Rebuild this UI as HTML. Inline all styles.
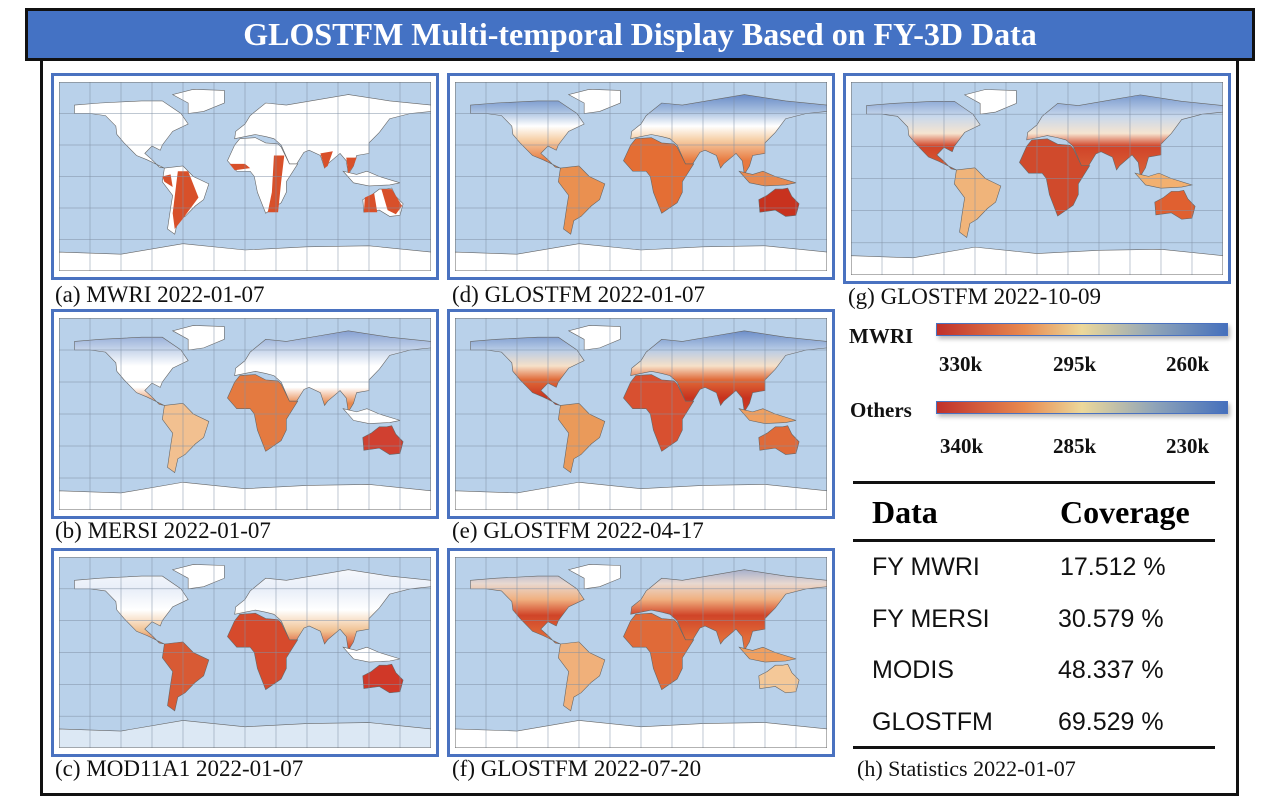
<!DOCTYPE html>
<html><head><meta charset="utf-8">
<style>
body{margin:0;width:1274px;height:806px;background:#fff;position:relative;overflow:hidden;font-family:"Liberation Serif",serif}
.title{position:absolute;left:25px;top:8px;width:1224px;height:47px;background:#4472c4;border:3px solid #111;color:#fff;font-weight:bold;font-size:32px;text-align:center;line-height:47px}
.frame{position:absolute;left:40px;top:58px;width:1193px;height:735px;border:3px solid #111;border-top:none}
.map{position:absolute;border:3px solid #4a72c0;background:#fff;box-sizing:border-box}
.map svg{position:absolute;left:5px;top:6px}
.cap{position:absolute;font-size:23px;color:#111;white-space:nowrap}
.lg{position:absolute;font-weight:bold;font-size:21px;color:#111}
.bar{position:absolute;left:936px;width:290px;height:11px;background:linear-gradient(90deg,#c0302a,#e88a50 30%,#ecd89a 50%,#8fa4b8 75%,#4570bc);border:1px solid #4a72c0;box-shadow:2px 3px 4px #bbb}
.hl{position:absolute;left:853px;width:362px;height:3px;background:#111}
.row{position:absolute;font-family:"Liberation Sans",sans-serif;font-size:25px;color:#111}
</style></head><body>
<div class="title">GLOSTFM Multi-temporal Display Based on FY-3D Data</div>
<div class="frame"></div>

<div class="map" id="ma" style="left:51px;top:73px;width:388px;height:207px"></div>
<div class="map" id="md" style="left:447px;top:73px;width:388px;height:207px"></div>
<div class="map" id="mg" style="left:843px;top:73px;width:388px;height:211px"></div>
<div class="map" id="mb" style="left:51px;top:309px;width:388px;height:210px"></div>
<div class="map" id="me" style="left:447px;top:309px;width:388px;height:210px"></div>
<div class="map" id="mc" style="left:51px;top:548px;width:388px;height:209px"></div>
<div class="map" id="mf" style="left:447px;top:548px;width:388px;height:209px"></div>

<div class="cap" style="left:55px;top:282px">(a) MWRI 2022-01-07</div>
<div class="cap" style="left:452px;top:282px">(d) GLOSTFM 2022-01-07</div>
<div class="cap" style="left:848px;top:284px">(g) GLOSTFM 2022-10-09</div>
<div class="cap" style="left:55px;top:518px">(b) MERSI 2022-01-07</div>
<div class="cap" style="left:452px;top:518px">(e) GLOSTFM 2022-04-17</div>
<div class="cap" style="left:55px;top:756px">(c) MOD11A1 2022-01-07</div>
<div class="cap" style="left:452px;top:756px">(f) GLOSTFM 2022-07-20</div>

<div class="lg" style="left:849px;top:324px">MWRI</div>
<div class="bar" style="top:323px"></div>
<div class="lg" style="left:939px;top:352px">330k</div>
<div class="lg" style="left:1053px;top:352px">295k</div>
<div class="lg" style="left:1166px;top:352px">260k</div>
<div class="lg" style="left:850px;top:398px">Others</div>
<div class="bar" style="top:401px"></div>
<div class="lg" style="left:940px;top:434px">340k</div>
<div class="lg" style="left:1053px;top:434px">285k</div>
<div class="lg" style="left:1166px;top:434px">230k</div>

<div class="hl" style="top:481px"></div>
<div style="position:absolute;left:872px;top:494px;font-weight:bold;font-size:32px">Data</div>
<div style="position:absolute;left:1060px;top:494px;font-weight:bold;font-size:32px">Coverage</div>
<div class="hl" style="top:539px"></div>
<div class="row" style="left:872px;top:553px">FY MWRI</div><div class="row" style="left:1060px;top:553px">17.512 %</div>
<div class="row" style="left:872px;top:605px">FY MERSI</div><div class="row" style="left:1058px;top:605px">30.579 %</div>
<div class="row" style="left:872px;top:656px">MODIS</div><div class="row" style="left:1058px;top:656px">48.337 %</div>
<div class="row" style="left:872px;top:708px">GLOSTFM</div><div class="row" style="left:1058px;top:708px">69.529 %</div>
<div class="hl" style="top:746px"></div>
<div class="cap" style="left:857px;top:756px;font-size:22px">(h) Statistics 2022-01-07</div>

<script>
function P(a){return a.map(p=>(p[0]+180)+','+(90-p[1])).join(' ');}
const C={
na:[[-165,68],[-140,70],[-100,72],[-80,72],[-62,60],[-55,50],[-70,43],[-80,30],[-82,25],[-90,29],[-97,22],[-90,16],[-83,9],[-78,8],[-95,16],[-105,20],[-117,32],[-124,40],[-125,48],[-135,58],[-150,60],[-165,60]],
gr:[[-55,60],[-40,62],[-20,70],[-20,82],[-50,83],[-70,78],[-55,70]],
sa:[[-78,8],[-60,10],[-50,0],[-35,-7],[-40,-22],[-48,-28],[-58,-38],[-65,-42],[-68,-55],[-75,-50],[-72,-30],[-70,-18],[-80,-5]],
eu:[[-10,36],[-9,43],[0,50],[5,58],[10,62],[20,70],[40,68],[70,73],[100,78],[140,72],[180,68],[180,62],[160,60],[140,55],[130,42],[120,32],[120,22],[108,20],[105,10],[100,2],[98,15],[92,22],[80,12],[77,8],[73,20],[62,25],[57,23],[50,12],[43,12],[35,30],[28,36],[20,38],[10,40],[0,38]],
af:[[-17,15],[-10,30],[-5,36],[10,37],[20,32],[32,31],[35,28],[43,12],[51,12],[40,-5],[40,-15],[35,-25],[20,-35],[18,-30],[12,-15],[9,0],[5,5],[-8,5]],
au:[[114,-22],[122,-18],[130,-12],[137,-12],[142,-11],[146,-19],[153,-26],[150,-37],[140,-38],[130,-32],[115,-34]],
id:[[95,5],[105,-6],[120,-9],[140,-8],[150,-6],[130,0],[118,5],[108,2]],
an:[[-180,-72],[-120,-74],[-60,-64],[0,-70],[60,-67],[120,-66],[180,-72],[180,-90],[-180,-90]]
};
const M={
ma:{g:[[90,'#fff'],[-90,'#fff']],ov:[
 [[-65,5],[-55,5],[-45,-20],[-60,-40],[-68,-50],[-70,-35]],[[-80,0],[-72,2],[-70,-10],[-78,-5]],
 [[28,20],[38,20],[35,-5],[32,-34],[22,-34],[26,-15]],[[-15,12],[0,12],[5,8],[-10,6]],
 [[116,-20],[125,-16],[128,-34],[115,-34]],[[132,-12],[142,-12],[152,-28],[146,-36],[138,-32]],
 [[73,22],[85,24],[80,10],[77,8]],[[98,18],[108,18],[105,10],[100,3]]],oc:'#d8502a',fill:{}},
md:{g:[[90,'#3a64b4'],[62,'#a8c0e0'],[48,'#fff'],[35,'#f6d0a8'],[15,'#e87a40'],[-90,'#e06a30']],fill:{af:'#e46e34',sa:'#ea9050',au:'#c8321e',gr:'#fff',an:'#fff',id:'#e88a50'}},
mb:{g:[[90,'#5a7cc0'],[62,'#c0d0e8'],[45,'#fff'],[25,'#fff'],[10,'#e88a50'],[-90,'#f2b070']],fill:{af:'#e47a40',sa:'#f2c090',au:'#d04030',gr:'#fff',an:'#fff',id:'#fff'}},
mc:{g:[[90,'#fff'],[60,'#e8eef8'],[40,'#fff'],[20,'#f0c090'],[5,'#d85030'],[-90,'#e06a30']],fill:{af:'#d64a2c',sa:'#d85a34',au:'#d03828',gr:'#fff',an:'#dce8f4',id:'#fff'}},
me:{g:[[90,'#3a64b4'],[60,'#b8cce6'],[45,'#f6e0c8'],[32,'#e06a38'],[15,'#c8321e'],[-90,'#e88a50']],fill:{af:'#d85030',sa:'#ea9a5a',au:'#e06a38',gr:'#fff',an:'#fff',id:'#f0a060'}},
mf:{g:[[90,'#6a8cc8'],[65,'#e8d8d0'],[50,'#f0b080'],[35,'#d04428'],[15,'#e06a38'],[-90,'#f0a868']],fill:{af:'#e06a38',sa:'#f0b07a',au:'#f4c898',gr:'#fff',an:'#fff',id:'#f0a060'}},
mg:{g:[[90,'#4a74bc'],[58,'#c8d8ec'],[42,'#f6e4d0'],[30,'#d04428'],[10,'#d85a34'],[-90,'#ea9050']],fill:{af:'#d04a2c',sa:'#f0b47a',au:'#e06030',gr:'#fff',an:'#fff',id:'#f2b070'}}
};
for(const id in M){
 const el=document.getElementById(id),m=M[id];
 const w=el.clientWidth-10, h=el.clientHeight-12;
 let s=`<svg width="${w}" height="${h}" viewBox="0 0 360 180" preserveAspectRatio="none"><defs><linearGradient id="g${id}" gradientUnits="userSpaceOnUse" x1="0" y1="0" x2="0" y2="180">`;
 m.g.forEach(st=>s+=`<stop offset="${(90-st[0])/180}" stop-color="${st[1]}"/>`);
 s+=`</linearGradient></defs><rect width="360" height="180" fill="#b9d1ea"/>`;
 for(const k in C){const f=(m.fill&&m.fill[k])||`url(#g${id})`;s+=`<polygon points="${P(C[k])}" fill="${f}" stroke="#666" stroke-width="0.6" vector-effect="non-scaling-stroke"/>`;}
 if(m.ov)m.ov.forEach(o=>s+=`<polygon points="${P(o)}" fill="${m.oc}"/>`);
 for(let x=30;x<360;x+=30)s+=`<line x1="${x}" y1="0" x2="${x}" y2="180" stroke="#8090a4" stroke-width="0.5" vector-effect="non-scaling-stroke"/>`;
 for(let y=30;y<180;y+=30)s+=`<line x1="0" y1="${y}" x2="360" y2="${y}" stroke="#8090a4" stroke-width="0.5" vector-effect="non-scaling-stroke"/>`;
 s+=`<rect width="360" height="180" fill="none" stroke="#666" stroke-width="1" vector-effect="non-scaling-stroke"/></svg>`;
 el.innerHTML=s;
}
</script>
</body></html>
